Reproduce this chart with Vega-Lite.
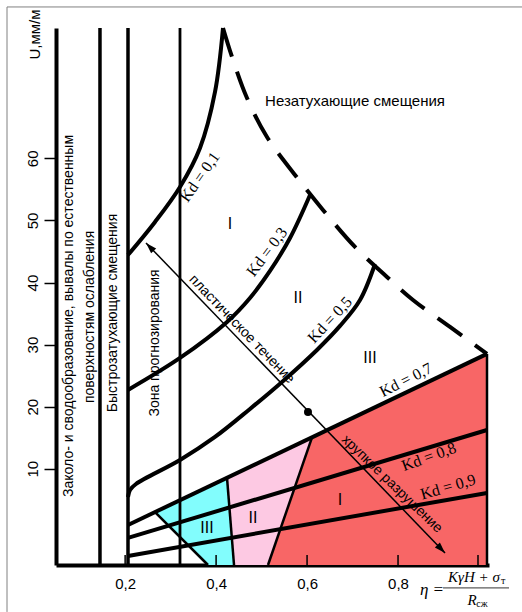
{
  "$schema": "https://vega.github.io/schema/vega-lite/v6.json",
  "width": 433,
  "height": 537,
  "autosize": "none",
  "padding": {"left": 56, "top": 28, "right": 33, "bottom": 47},
  "background": "white",
  "config": {"view": {"stroke": null}, "font": "Liberation Sans"},
  "encoding": {
    "x": {
      "field": "x", "type": "quantitative",
      "scale": {"domain": [0.048, 1.0], "nice": false, "zero": false},
      "axis": {
        "values": [0.2, 0.4, 0.6, 0.8],
        "labelExpr": "replace(format(datum.value, '.1f'), '.', ',')",
        "ticks": false, "grid": false,
        "domainColor": "black", "domainWidth": 4,
        "labelFontSize": 15, "labelFont": "Liberation Sans", "labelColor": "black",
        "labelPadding": 11, "title": null
      }
    },
    "y": {
      "field": "y", "type": "quantitative", "stack": null,
      "scale": {"domain": [-5.5, 81], "nice": false, "zero": false},
      "axis": {
        "values": [10, 20, 30, 40, 50, 60],
        "tickSize": 12, "tickWidth": 1.5, "tickColor": "black",
        "labelAngle": 270, "labelAlign": "center", "labelBaseline": "bottom",
        "labelPadding": 4, "labelFontSize": 15, "labelFont": "Liberation Sans", "labelColor": "black",
        "grid": false, "domainColor": "black", "domainWidth": 4,
        "title": "U,мм/м", "titleAngle": 270, "titleX": -22, "titleY": 6,
        "titleAlign": "center", "titleBaseline": "middle",
        "titleFontSize": 15, "titleFontWeight": "normal", "titleFont": "Liberation Sans", "titleColor": "black"
      }
    }
  },
  "layer": [
    {
      "data": {"values": [
        {"x": -0.0597, "y": 84.39, "x2": 1.0726, "y2": 84.39},
        {"x": -0.0597, "y": 84.39, "x2": -0.0597, "y2": -13.06}
      ]},
      "mark": {"type": "rule", "color": "#808080", "strokeWidth": 1},
      "encoding": {"x2": {"field": "x2"}, "y2": {"field": "y2"}}
    },
    {
      "data": {"values": [
        {"zone": "cyan", "x": 0.2657, "y": 3.02, "y2": 3.02},
        {"zone": "cyan", "x": 0.3822, "y": 7.09, "y2": -5.5},
        {"zone": "cyan", "x": 0.424, "y": 8.55, "y2": -5.5},
        {"zone": "cyan", "x": 0.4394, "y": -5.5, "y2": -5.5},
        {"zone": "pink", "x": 0.424, "y": 8.55, "y2": 8.55},
        {"zone": "pink", "x": 0.4394, "y": 9.09, "y2": -5.5},
        {"zone": "pink", "x": 0.5141, "y": 11.69, "y2": -5.5},
        {"zone": "pink", "x": 0.6109, "y": 15.07, "y2": 15.07},
        {"zone": "red", "x": 0.5141, "y": -5.5, "y2": -5.5},
        {"zone": "red", "x": 0.6109, "y": 15.07, "y2": -5.5},
        {"zone": "red", "x": 0.9956, "y": 28.5, "y2": -5.5}
      ]},
      "mark": {"type": "area", "orient": "vertical", "opacity": 1},
      "encoding": {
        "y2": {"field": "y2"},
        "color": {"field": "zone", "type": "nominal", "legend": null,
          "scale": {"domain": ["cyan", "pink", "red"], "range": ["#82fdfd", "#fdc9e3", "#f86666"]}}
      }
    },
    {
      "data": {"values": [
        {"x": 0.2657, "y": 3.02, "x2": 0.3822, "y2": -5.5},
        {"x": 0.424, "y": 8.55, "x2": 0.4394, "y2": -5.5},
        {"x": 0.6109, "y": 15.07, "x2": 0.5141, "y2": -5.5},
        {"x": 0.9956, "y": 28.5, "x2": 0.9956, "y2": -5.5}
      ]},
      "mark": {"type": "rule", "color": "black", "strokeWidth": 2.5},
      "encoding": {"x2": {"field": "x2"}, "y2": {"field": "y2"}}
    },
    {
      "data": {"values": [
        {"x": 0.1447, "y": -5.5, "y2": 81},
        {"x": 0.2063, "y": -5.5, "y2": 81}
      ]},
      "mark": {"type": "rule", "color": "black", "strokeWidth": 3.5},
      "encoding": {"y2": {"field": "y2"}}
    },
    {
      "data": {"values": [
        {"x": 0.3206, "y": -5.5, "y2": 81}
      ]},
      "mark": {"type": "rule", "color": "black", "strokeWidth": 2.8},
      "encoding": {"y2": {"field": "y2"}}
    },
    {
      "data": {"values": [
        {"kd": "0.1", "x": 0.2063, "y": 44.44},
        {"kd": "0.1", "x": 0.2657, "y": 49.76},
        {"kd": "0.1", "x": 0.3206, "y": 55.40},
        {"kd": "0.1", "x": 0.3646, "y": 61.68},
        {"kd": "0.1", "x": 0.3976, "y": 70.70},
        {"kd": "0.1", "x": 0.4152, "y": 81.0},
        {"kd": "0.3", "x": 0.2063, "y": 22.70},
        {"kd": "0.3", "x": 0.3206, "y": 27.85},
        {"kd": "0.3", "x": 0.424, "y": 33.65},
        {"kd": "0.3", "x": 0.4745, "y": 37.52},
        {"kd": "0.3", "x": 0.5185, "y": 41.87},
        {"kd": "0.3", "x": 0.5625, "y": 47.18},
        {"kd": "0.3", "x": 0.6065, "y": 54.11},
        {"kd": "0.5", "x": 0.2063, "y": 5.46},
        {"kd": "0.5", "x": 0.2107, "y": 6.59},
        {"kd": "0.5", "x": 0.2239, "y": 7.55},
        {"kd": "0.5", "x": 0.3206, "y": 11.42},
        {"kd": "0.5", "x": 0.3976, "y": 15.13},
        {"kd": "0.5", "x": 0.4745, "y": 19.64},
        {"kd": "0.5", "x": 0.5449, "y": 23.99},
        {"kd": "0.5", "x": 0.6218, "y": 29.14},
        {"kd": "0.5", "x": 0.6724, "y": 33.01},
        {"kd": "0.5", "x": 0.7164, "y": 37.19},
        {"kd": "0.5", "x": 0.7494, "y": 42.99},
        {"kd": "0.7", "x": 0.2063, "y": 0.95},
        {"kd": "0.7", "x": 0.9956, "y": 28.5},
        {"kd": "0.8", "x": 0.2063, "y": -1.14},
        {"kd": "0.8", "x": 0.9956, "y": 16.25},
        {"kd": "0.9", "x": 0.2063, "y": -4.04},
        {"kd": "0.9", "x": 0.9956, "y": 6.11}
      ]},
      "mark": {"type": "line", "color": "black", "strokeWidth": 4, "interpolate": "catmull-rom"},
      "encoding": {"detail": {"field": "kd", "type": "nominal"}}
    },
    {
      "data": {"values": [
        {"x": 0.4152, "y": 81.0},
        {"x": 0.435, "y": 76.34},
        {"x": 0.4679, "y": 69.73},
        {"x": 0.5119, "y": 63.45},
        {"x": 0.5735, "y": 57.33},
        {"x": 0.635, "y": 51.69},
        {"x": 0.7054, "y": 45.73},
        {"x": 0.7757, "y": 40.90},
        {"x": 0.8329, "y": 37.19},
        {"x": 0.9143, "y": 32.84},
        {"x": 0.9956, "y": 28.5}
      ]},
      "mark": {"type": "line", "color": "black", "strokeWidth": 4, "strokeDash": [30, 16], "interpolate": "catmull-rom"},
      "encoding": {}
    },
    {
      "data": {"values": [
        {"x": 0.2459, "y": 46.38, "x2": 0.9033, "y2": -3.56}
      ]},
      "mark": {"type": "rule", "color": "black", "strokeWidth": 1.5},
      "encoding": {"x2": {"field": "x2"}, "y2": {"field": "y2"}}
    },
    {
      "data": {"values": [{"x": 0.2459, "y": 46.38}]},
      "mark": {"type": "point", "shape": "M0,0L-0.7,2.2L0.7,2.2Z", "size": 100, "angle": 316, "filled": true, "color": "black", "opacity": 1},
      "encoding": {}
    },
    {
      "data": {"values": [{"x": 0.9033, "y": -3.56}]},
      "mark": {"type": "point", "shape": "M0,0L-0.7,2.2L0.7,2.2Z", "size": 100, "angle": 136, "filled": true, "color": "black", "opacity": 1},
      "encoding": {}
    },
    {
      "data": {"values": [{"x": 0.602, "y": 19.15}]},
      "mark": {"type": "point", "shape": "circle", "size": 64, "filled": true, "color": "black", "opacity": 1},
      "encoding": {}
    },
    {
      "data": {"values": [
        {"x": 0.2, "y": -5.5, "y2": -3.9},
        {"x": 0.4, "y": -5.5, "y2": -3.9},
        {"x": 0.6, "y": -5.5, "y2": -3.9},
        {"x": 0.8, "y": -5.5, "y2": -3.9},
        {"x": 0.9758, "y": -5.5, "y2": -3.9}
      ]},
      "mark": {"type": "rule", "color": "black", "strokeWidth": 1.5},
      "encoding": {"y2": {"field": "y2"}}
    },
    {
      "data": {"values": [
        {"label": "Заколо- и сводообразование, вывалы по естественным", "x": 0.0766, "y": 34.62},
        {"label": "поверхностям ослабления", "x": 0.1228, "y": 34.46},
        {"label": "Быстрозатухающие смещения", "x": 0.1733, "y": 35.1},
        {"label": "Зона прогнозирования", "x": 0.2657, "y": 30.27}
      ]},
      "mark": {"type": "text", "angle": 270, "fontSize": 14, "font": "Liberation Sans", "color": "black", "align": "center", "baseline": "middle"},
      "encoding": {"text": {"field": "label", "type": "nominal"}}
    },
    {
      "data": {"values": [{"label": "Незатухающие смещения", "x": 0.7054, "y": 69.25}]},
      "mark": {"type": "text", "fontSize": 15, "font": "Liberation Sans", "color": "black", "align": "center", "baseline": "middle"},
      "encoding": {"text": {"field": "label", "type": "nominal"}}
    },
    {
      "data": {"values": [
        {"label": "I", "x": 0.4306, "y": 49.44},
        {"label": "II", "x": 0.5801, "y": 37.52},
        {"label": "III", "x": 0.7384, "y": 27.85},
        {"label": "III", "x": 0.380, "y": 0.47},
        {"label": "II", "x": 0.4811, "y": 2.08},
        {"label": "I", "x": 0.6724, "y": 4.98}
      ]},
      "mark": {"type": "text", "fontSize": 16, "font": "Liberation Sans", "color": "black", "align": "center", "baseline": "middle"},
      "encoding": {"text": {"field": "label", "type": "nominal"}}
    },
    {
      "data": {"values": [{"label": "Kd = 0,1", "x": 0.3646, "y": 57.01}]},
      "mark": {"type": "text", "angle": 305, "fontSize": 16, "font": "Liberation Serif", "color": "black", "align": "center", "baseline": "middle"},
      "encoding": {"text": {"field": "label", "type": "nominal"}}
    },
    {
      "data": {"values": [{"label": "Kd = 0,3", "x": 0.5119, "y": 44.93}]},
      "mark": {"type": "text", "angle": 307, "fontSize": 16, "font": "Liberation Serif", "color": "black", "align": "center", "baseline": "middle"},
      "encoding": {"text": {"field": "label", "type": "nominal"}}
    },
    {
      "data": {"values": [{"label": "Kd = 0,5", "x": 0.6504, "y": 33.97}]},
      "mark": {"type": "text", "angle": 313, "fontSize": 16, "font": "Liberation Serif", "color": "black", "align": "center", "baseline": "middle"},
      "encoding": {"text": {"field": "label", "type": "nominal"}}
    },
    {
      "data": {"values": [{"label": "Kd = 0,7", "x": 0.8175, "y": 24.31}]},
      "mark": {"type": "text", "angle": 333, "fontSize": 16, "font": "Liberation Serif", "color": "black", "align": "center", "baseline": "middle"},
      "encoding": {"text": {"field": "label", "type": "nominal"}}
    },
    {
      "data": {"values": [{"label": "Kd = 0,8", "x": 0.868, "y": 11.9}]},
      "mark": {"type": "text", "angle": 340, "fontSize": 16, "font": "Liberation Serif", "color": "black", "align": "center", "baseline": "middle"},
      "encoding": {"text": {"field": "label", "type": "nominal"}}
    },
    {
      "data": {"values": [{"label": "Kd = 0,9", "x": 0.9099, "y": 7.07}]},
      "mark": {"type": "text", "angle": 344, "fontSize": 16, "font": "Liberation Serif", "color": "black", "align": "center", "baseline": "middle"},
      "encoding": {"text": {"field": "label", "type": "nominal"}}
    },
    {
      "data": {"values": [{"label": "пластическое течение", "x": 0.4563, "y": 32.46}]},
      "mark": {"type": "text", "angle": 46, "fontSize": 14, "font": "Liberation Sans", "color": "black", "align": "center", "baseline": "middle"},
      "encoding": {"text": {"field": "label", "type": "nominal"}}
    },
    {
      "data": {"values": [{"label": "хрупкое разрушение", "x": 0.7867, "y": 7.55}]},
      "mark": {"type": "text", "angle": 44, "fontSize": 14, "font": "Liberation Sans", "color": "black", "align": "center", "baseline": "middle"},
      "encoding": {"text": {"field": "label", "type": "nominal"}}
    },
    {
      "data": {"values": [{"label": "η =", "x": 0.8747, "y": -9.52}]},
      "mark": {"type": "text", "fontSize": 17, "font": "Liberation Serif", "fontStyle": "italic", "color": "black", "align": "center", "baseline": "middle"},
      "encoding": {"text": {"field": "label", "type": "nominal"}}
    },
    {
      "data": {"values": [
        {"label": "KγH + σ", "x": 0.967, "y": -7.43},
        {"label": "R", "x": 0.9626, "y": -11.13}
      ]},
      "mark": {"type": "text", "fontSize": 15, "font": "Liberation Serif", "fontStyle": "italic", "color": "black", "align": "center", "baseline": "middle"},
      "encoding": {"text": {"field": "label", "type": "nominal"}}
    },
    {
      "data": {"values": [
        {"label": "т", "x": 1.031, "y": -8.1},
        {"label": "сж", "x": 0.9846, "y": -11.77}
      ]},
      "mark": {"type": "text", "fontSize": 10, "font": "Liberation Serif", "color": "black", "align": "center", "baseline": "middle"},
      "encoding": {"text": {"field": "label", "type": "nominal"}}
    },
    {
      "data": {"values": [{"x": 0.8989, "x2": 1.044, "y": -9.19}]},
      "mark": {"type": "rule", "color": "#333333", "strokeWidth": 1},
      "encoding": {"x2": {"field": "x2"}}
    }
  ]
}
